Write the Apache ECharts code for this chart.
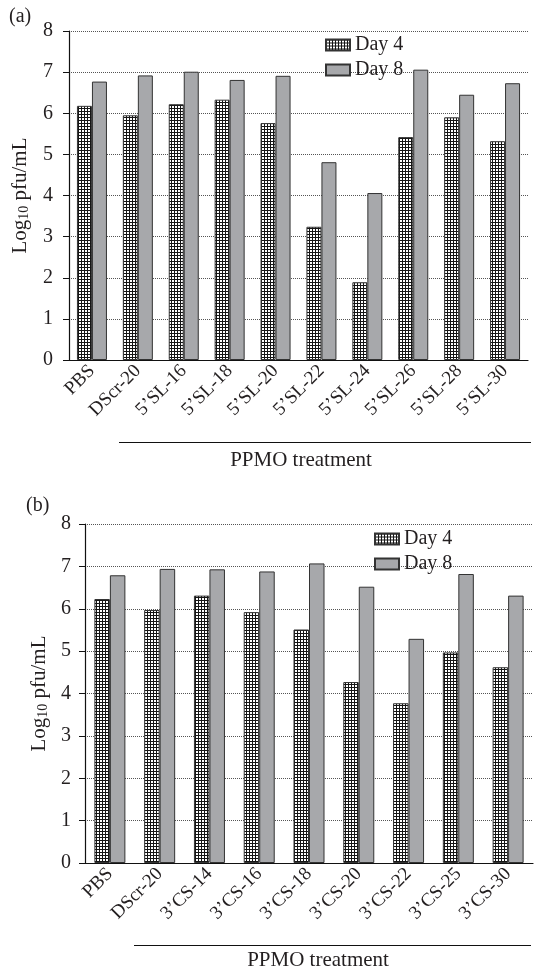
<!DOCTYPE html>
<html>
<head>
<meta charset="utf-8">
<script src="https://cdn.jsdelivr.net/npm/echarts@6/dist/echarts.min.js"></script>
<style>
  html, body { margin: 0; padding: 0; background: #fff; }
  #chart { width: 537px; height: 969px; }
</style>
</head>
<body>
<div id="chart"></div>
<script>
// panel (a)
var catsA = ['PBS', 'DScr-20', '5’SL-16', '5’SL-18', '5’SL-20', '5’SL-22', '5’SL-24', '5’SL-26', '5’SL-28', '5’SL-30'];
var day4A = [6.18, 5.95, 6.22, 6.33, 5.76, 3.24, 1.89, 5.42, 5.90, 5.32];
var day8A = [6.77, 6.92, 7.01, 6.81, 6.91, 4.81, 4.06, 7.06, 6.45, 6.73];
// panel (b)
var catsB = ['PBS', 'DScr-20', '3’CS-14', '3’CS-16', '3’CS-18', '3’CS-20', '3’CS-22', '3’CS-25', '3’CS-30'];
var day4B = [6.23, 5.97, 6.31, 5.92, 5.51, 4.27, 3.77, 4.97, 4.62];
var day8B = [6.79, 6.94, 6.93, 6.88, 7.07, 6.52, 5.29, 6.82, 6.31];
var yTicks = [0, 1, 2, 3, 4, 5, 6, 7, 8];

var FONT = 'Liberation Serif';
var INK = '#231f20';

// checkered fill for Day 4
function checker() {
  var c = document.createElement('canvas');
  c.width = 3; c.height = 3;
  var g = c.getContext('2d');
  g.fillStyle = '#151515';
  g.fillRect(0, 0, 3, 3);
  g.fillStyle = '#ffffff';
  g.fillRect(1, 1, 2, 2);
  return c;
}
var checkFill = { image: checker(), repeat: 'repeat' };

function yAxis(gi, gap, margin) {
  return {
    gridIndex: gi, type: 'value', min: 0, max: yTicks[yTicks.length - 1], interval: 1,
    name: '{a|Log}{s|10}{a| pfu/mL}', nameLocation: 'middle', nameGap: gap,
    nameTextStyle: {
      rich: {
        a: { fontFamily: FONT, fontSize: 21, color: INK },
        s: { fontFamily: FONT, fontSize: 14, color: INK, verticalAlign: 'bottom', padding: [8, 0, 0, 0] }
      }
    },
    axisLine: { show: true, lineStyle: { color: '#111', width: 1.2 } },
    axisTick: { show: true, length: 6, lineStyle: { color: '#111' } },
    axisLabel: { fontFamily: FONT, fontSize: 20, color: INK, margin: margin },
    splitLine: { show: true, lineStyle: { type: 'dotted', color: '#555', width: 1 } }
  };
}

function xAxis(gi, cats) {
  return {
    gridIndex: gi, type: 'category', data: cats, boundaryGap: true,
    axisLine: { lineStyle: { color: '#111', width: 1.2 } },
    axisTick: { alignWithLabel: true, length: 5, lineStyle: { color: '#111' } },
    axisLabel: { rotate: 45, fontFamily: FONT, fontSize: 19, color: INK, margin: 8, interval: 0 }
  };
}

function bars(name, data, gi, fill, w) {
  return {
    name: name, type: 'bar', data: data, xAxisIndex: gi, yAxisIndex: gi,
    barWidth: w, barGap: '0%',
    itemStyle: { color: fill, borderColor: '#333', borderWidth: 1 },
    emphasis: { disabled: true }
  };
}

function legend(left, top) {
  return {
    left: left, top: top, orient: 'vertical', icon: 'rect',
    itemWidth: 24, itemHeight: 11, itemGap: 5,
    textStyle: { fontFamily: FONT, fontSize: 20, color: INK },
    data: ['Day 4', 'Day 8']
  };
}

var chart = echarts.init(document.getElementById('chart'));
chart.setOption({
  animation: false,
  textStyle: { fontFamily: FONT },
  grid: [
    { left: 69, right: 9, top: 31, bottom: 609 },
    { left: 85, right: 4, top: 524, bottom: 106 }
  ],
  legend: [legend(320, 30), legend(369, 524)],
  xAxis: [xAxis(0, catsA), xAxis(1, catsB)],
  yAxis: [yAxis(0, 38, 16), yAxis(1, 34, 14)],
  series: [
    bars('Day 4', day4A, 0, checkFill, 15),
    bars('Day 8', day8A, 0, '#a7a8ab', 15),
    bars('Day 4', day4B, 1, checkFill, 15.5),
    bars('Day 8', day8B, 1, '#a7a8ab', 15.5)
  ],
  graphic: [
    { type: 'text', left: 9, top: 7, style: { text: '(a)', font: '20px "Liberation Serif"', fill: INK } },
    { type: 'text', left: 26, top: 496, style: { text: '(b)', font: '20px "Liberation Serif"', fill: INK } },
    { type: 'line', shape: { x1: 119, y1: 442.5, x2: 531, y2: 442.5 }, style: { stroke: '#111', lineWidth: 1 } },
    { type: 'text', x: 301, y: 460, style: { text: 'PPMO treatment', font: '21px "Liberation Serif"', fill: INK, align: 'center', verticalAlign: 'middle' } },
    { type: 'line', shape: { x1: 134, y1: 945.5, x2: 531, y2: 945.5 }, style: { stroke: '#111', lineWidth: 1 } },
    { type: 'text', x: 318, y: 960, style: { text: 'PPMO treatment', font: '21px "Liberation Serif"', fill: INK, align: 'center', verticalAlign: 'middle' } }
  ]
});
</script>
</body>
</html>
